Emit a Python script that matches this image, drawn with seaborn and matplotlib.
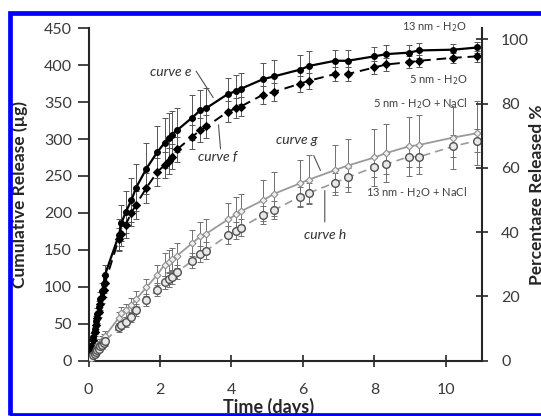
import matplotlib
matplotlib.use('Agg')
import matplotlib.pyplot as plt
from matplotlib.patches import Rectangle
import seaborn as sns
import pandas as pd

# sampling times (days)
t = [0, 0.04, 0.08, 0.13, 0.17, 0.21, 0.25, 0.29, 0.33, 0.38, 0.42, 0.46,
     0.85, 0.92, 1.04, 1.2, 1.33, 1.62, 1.92, 2.13, 2.25, 2.33, 2.48, 2.9,
     3.13, 3.3, 3.9, 4.14, 4.26, 4.88, 5.2, 5.92, 6.17, 6.9, 7.25, 8.0,
     8.33, 8.96, 9.25, 10.2, 10.88]

# cumulative release (ug)
curve_e = [0, 10, 20, 32, 42, 53, 63, 72, 83, 94, 104, 116,
           170, 186, 201, 217, 234, 260, 282, 295, 302, 306, 312, 329,
           339, 342, 361, 365, 368, 381, 385, 394, 399, 406, 406, 412,
           415, 417, 420, 421, 424]
curve_f = [0, 9, 18, 28, 38, 48, 57, 66, 76, 86, 95, 105,
           165, 171, 184, 200, 211, 234, 255, 265, 270, 276, 286, 303,
           312, 317, 337, 342, 344, 360, 364, 375, 379, 388, 388, 397,
           401, 404, 406, 410, 412]
curve_g = [0, 3, 6, 9, 12, 15, 18, 21, 24, 27, 30, 33,
           58, 64, 68, 75, 83, 99, 116, 130, 134, 137, 142, 159,
           168, 172, 191, 198, 202, 217, 226, 240, 245, 258, 264, 275,
           281, 290, 292, 302, 308]
curve_h = [0, 2, 4, 7, 9, 12, 14, 16, 19, 21, 24, 26,
           45, 48, 52, 59, 68, 82, 96, 106, 110, 113, 120, 135,
           144, 149, 170, 176, 180, 197, 204, 222, 227, 241, 248, 262,
           266, 276, 276, 290, 298]

# standard deviations (ug)
err_e = [0, 3, 4, 5, 6, 7, 8, 9, 10, 11, 12, 13,
         22, 24, 28, 30, 32, 35, 35, 34, 33, 32, 30, 30, 28, 27, 22, 22,
         21, 22, 22, 20, 20, 15, 15, 13, 13, 10, 10, 8, 7]
err_f = [0, 2, 3, 4, 5, 6, 6, 7, 8, 8, 9, 10,
         15, 16, 18, 18, 19, 20, 19, 18, 18, 17, 17, 16, 16, 15, 14, 14,
         13, 12, 12, 11, 11, 10, 10, 9, 9, 8, 8, 7, 7]
err_g = [0, 2, 2, 3, 3, 4, 4, 5, 5, 6, 6, 7,
         8, 9, 9, 10, 11, 12, 14, 15, 16, 16, 17, 18, 19, 20, 22, 23,
         24, 28, 30, 32, 33, 34, 36, 38, 39, 40, 40, 42, 43]
err_h = [0, 1, 2, 2, 3, 3, 4, 4, 5, 5, 5, 6,
         6, 6, 7, 7, 8, 8, 9, 9, 10, 10, 10, 10, 11, 11, 12, 12,
         12, 12, 12, 13, 13, 13, 13, 14, 14, 14, 14, 15, 15]

total_ug = 435  # 100 % released

sns.set_style('ticks')
plt.rcParams['font.family'] = ['Lato', 'DejaVu Sans']

fig = plt.figure(figsize=(5.41, 4.16), dpi=100)
ax = fig.add_axes([0.1636, 0.1334, 0.7268, 0.7986])

styles = {
    'e': dict(y=curve_e, err=err_e, color='black', ecolor='#555555',
              kw=dict(marker='o', markersize=4.2, markeredgecolor='black',
                      markerfacecolor='black', linewidth=1.6, linestyle='-')),
    'f': dict(y=curve_f, err=err_f, color='black', ecolor='#555555',
              kw=dict(marker='D', markersize=4.5, markeredgecolor='black',
                      markerfacecolor='black', linewidth=1.4, linestyle=(0, (5, 3)))),
    'g': dict(y=curve_g, err=err_g, color='#9a9a9a', ecolor='#707070',
              kw=dict(marker='D', markersize=3.5, markeredgecolor='#8a8a8a',
                      markerfacecolor='#eeeeee', linewidth=1.3, linestyle='-')),
    'h': dict(y=curve_h, err=err_h, color='#9a9a9a', ecolor='#707070',
              kw=dict(marker='o', markersize=5.5, markeredgecolor='#505050',
                      markerfacecolor='#e8e8e8', markeredgewidth=1.0,
                      linewidth=1.2, linestyle=(0, (5, 3)))),
}

for name, s in styles.items():
    ax.errorbar(t, s['y'], yerr=s['err'], fmt='none', ecolor=s['ecolor'],
                elinewidth=0.7, capsize=2.2, capthick=0.7, zorder=1)
    df = pd.DataFrame({'t': t, 'v': s['y']})
    sns.lineplot(data=df, x='t', y='v', ax=ax, color=s['color'],
                 zorder=3, **s['kw'])

ax.set_xlim(0, 11)
ax.set_ylim(0, 450)
ax.set_xticks(range(0, 11, 2))
ax.set_yticks(range(0, 451, 50))
for sp in ['top', 'right']:
    ax.spines[sp].set_visible(False)
for sp in ['left', 'bottom']:
    ax.spines[sp].set_linewidth(1.5)
ax.tick_params(axis='y', direction='out', length=8, width=1.2, pad=4,
               labelsize=11.5, labelcolor='#3a3a3a')
ax.tick_params(axis='x', direction='inout', length=8, width=1.2, pad=12,
               labelsize=11.5, labelcolor='#3a3a3a')

ax.set_xlabel('Time (days)', fontsize=13, fontweight='bold')
ax.xaxis.set_label_coords(0.459, -0.14)
ax.xaxis.label.set_va('center')
ax.set_ylabel('Cumulative Release (µg)', fontsize=12.5, fontweight='bold')
ax.yaxis.set_label_coords(-0.174, 0.5)
ax.yaxis.label.set_va('center')

ax2 = ax.twinx()
ax2.set_ylim(0, 450 / total_ug * 100)
ax2.set_yticks(range(0, 101, 20))
for sp in ['top', 'left', 'bottom']:
    ax2.spines[sp].set_visible(False)
ax2.spines['right'].set_linewidth(1.5)
ax2.tick_params(axis='y', direction='inout', length=8, width=1.2, pad=10,
                labelsize=11.5, labelcolor='#3a3a3a')
ax2.set_ylabel('Percentage Released %', fontsize=12.5, fontweight='bold',
               rotation=90)
ax2.yaxis.set_label_coords(1.141, 0.5)
ax2.yaxis.label.set_va('center')

# curve names
txt = dict(fontsize=10, style='italic', color='#303030', ha='center', va='center')
ax.text(2.30, 391, 'curve e', **txt)
ax.text(3.62, 276, 'curve f', **txt)
ax.text(5.82, 299, 'curve g', **txt)
ax.text(6.63, 170, 'curve h', **txt)
lead = dict(arrowstyle='-', color='#505050', lw=0.8)
ax.annotate('', xy=(3.53, 353), xytext=(2.97, 395), arrowprops=lead)
ax.annotate('', xy=(3.70, 283), xytext=(3.63, 323), arrowprops=lead)
ax.annotate('', xy=(6.52, 254), xytext=(6.27, 281), arrowprops=lead)
ax.annotate('', xy=(6.61, 234), xytext=(6.61, 184), arrowprops=lead)

# condition labels
lab = dict(fontsize=8, color='#404040', ha='right', va='center', clip_on=False)
ax.text(10.6, 452, '13 nm - H$_2$O', **lab)
ax.text(10.6, 380, '5 nm - H$_2$O', **lab)
ax.text(10.6, 348, '5 nm - H$_2$O + NaCl', **lab)
ax.text(10.6, 227, '13 nm - H$_2$O + NaCl', **lab)

# blue frame
fig.patches.append(Rectangle((0.0176, 0.0036), 1.0, 0.964,
                             transform=fig.transFigure, fill=False,
                             edgecolor='#0000ff', linewidth=3.4))

fig.savefig('out.png', dpi=100)
